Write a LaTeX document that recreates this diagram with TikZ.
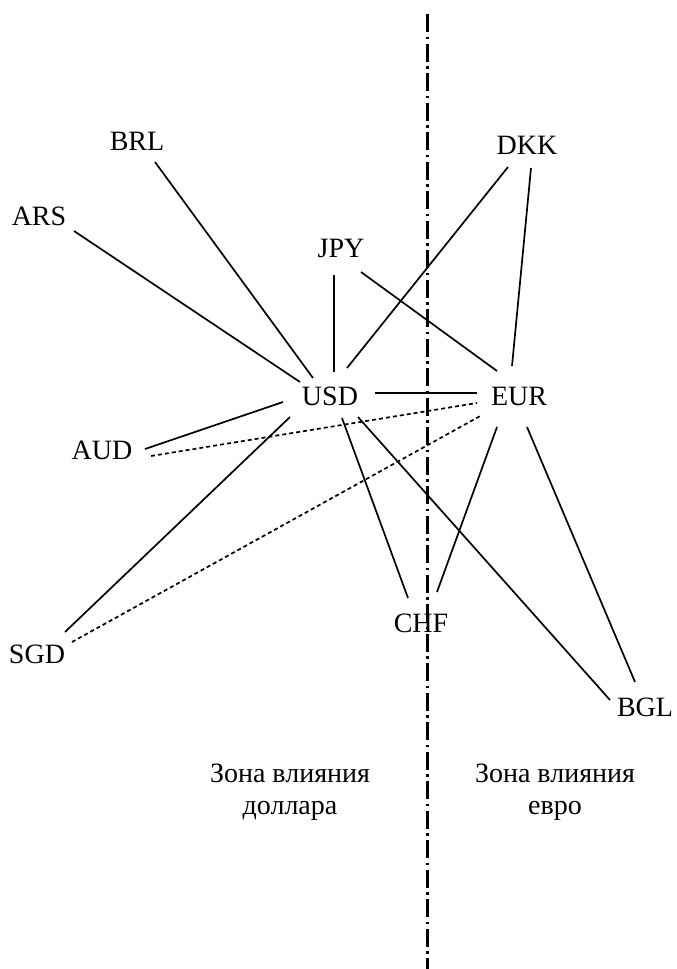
\documentclass[tikz,border=0pt]{standalone}
\usepackage{fontspec}
\setmainfont{Liberation Serif}
\usetikzlibrary{calc}
\begin{document}
\begin{tikzpicture}[x=1pt,y=-1pt,
  cur/.style={inner sep=0pt,font=\fontsize{28}{32}\selectfont},
  zone/.style={inner sep=0pt,align=center,font=\fontsize{28}{32}\selectfont},
  link/.style={line width=1.7pt},
  weak/.style={line width=1.7pt,dash pattern=on 4pt off 3pt},
  divider/.style={line width=3pt,dash pattern=on 18pt off 4.5pt on 2.5pt off 4.5pt}]
\useasboundingbox (0,0) rectangle (677,969);

% zone boundary
\coordinate (top) at (427,14);
\coordinate (bottom) at (427,969);
\draw[divider] (top) -- (bottom);

% currencies
\node[cur] (BRL) at (137,141) {BRL};
\node[cur] (ARS) at (39,216) {ARS};
\node[cur] (JPY) at (341,248) {JPY};
\node[cur] (DKK) at (527,145) {DKK};
\node[cur] (USD) at (330,396) {USD};
\node[cur] (EUR) at (519,396) {EUR};
\node[cur] (AUD) at (102,450) {AUD};
\node[cur] (SGD) at (37,654) {SGD};
\node[cur] (CHF) at (421,623) {CHF};
\node[cur] (BGL) at (645,707) {BGL};

% zone captions
\node[zone] (zusd) at (290,792) {Зона влияния\\доллара};
\node[zone] (zeur) at (555,792) {Зона влияния\\евро};

% strong links
\draw[link] ($(BRL)+(18,21)$) -- ($(USD)+(-17,-18)$);
\draw[link] ($(ARS)+(35,15)$) -- ($(USD)+(-30,-14)$);
\draw[link] ($(JPY)+(-7,27)$) -- ($(USD)+(4,-24)$);
\draw[link] ($(JPY)+(20,24)$) -- ($(EUR)+(-22,-25)$);
\draw[link] ($(DKK)+(-19,22)$) -- ($(USD)+(17,-28)$);
\draw[link] ($(DKK)+(4,23)$) -- ($(EUR)+(-7,-30)$);
\draw[link] ($(USD)+(45,-3)$) -- ($(EUR)+(-42,-3)$);
\draw[link] ($(AUD)+(43,-1)$) -- ($(USD)+(-47,6)$);
\draw[link] ($(SGD)+(28,-22)$) -- ($(USD)+(-40,21)$);
\draw[link] ($(USD)+(12,22)$) -- ($(CHF)+(-13,-25)$);
\draw[link] ($(EUR)+(-22,31)$) -- ($(CHF)+(16,-31)$);
\draw[link] ($(USD)+(28,21)$) -- ($(BGL)+(-35,-7)$);
\draw[link] ($(EUR)+(8,31)$) -- ($(BGL)+(-10,-25)$);

% weak links
\draw[weak] ($(AUD)+(49,6)$) -- ($(EUR)+(-42,7)$);
\draw[weak] ($(SGD)+(35,-12)$) -- ($(EUR)+(-37,19)$);
\end{tikzpicture}
\end{document}
